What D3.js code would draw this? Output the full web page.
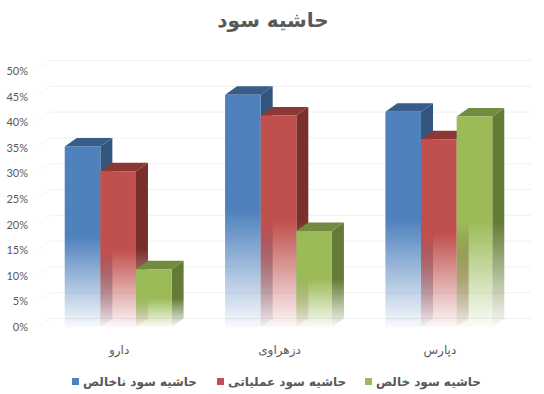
<!DOCTYPE html>
<html lang="fa">
<head>
<meta charset="utf-8">
<script src="https://cdn.jsdelivr.net/npm/d3@7"></script>
<style>
  html, body { margin: 0; padding: 0; background: #fff; }
  svg { display: block; }
</style>
</head>
<body>
<div id="chart"></div>
<script>
// values
const categories = ["دارو", "دزهراوی", "دپارس"];
const seriesNames = ["حاشیه سود ناخالص", "حاشیه سود عملیاتی", "حاشیه سود خالص"];
const grossMargin = [35, 45, 41.7];
const operatingMargin = [30.2, 41, 36.4];
const netMargin = [11.2, 18.6, 40.8];
const tickValues = [0, 5, 10, 15, 20, 25, 30, 35, 40, 45, 50];
const frontColors = ["#4f81bd", "#c0504d", "#9bbb59"];
const topColors = ["#385d8a", "#8c3836", "#718c40"];
const sideColors = ["#33567f", "#7b2f2d", "#637b35"];

const width = 544;
const height = 394;
const depthX = 12;   // 3d offset of the back wall
const depthY = 8.5;

const svg = d3.select("#chart")
  .append("svg")
  .attr("width", width)
  .attr("height", height);

const defs = svg.append("defs");

const x0 = d3.scaleBand()
  .domain(categories)
  .range([38, 519]);

const x1 = d3.scaleBand()
  .domain(seriesNames)
  .range([0, x0.bandwidth()])
  .paddingOuter(0.75)
  .paddingInner(0);

const y = d3.scaleLinear()
  .domain([0, 50])
  .range([327, 69]);

// tick labels sit a little tighter than the bars' scale
const yLabels = d3.scaleLinear()
  .domain([0, 50])
  .range([327, 71]);

// gridlines on the back wall, faint stub on the side wall
const grid = svg.append("g");
tickValues.forEach(t => {
  grid.append("line")
    .attr("x1", 38 + depthX).attr("x2", 519 + depthX)
    .attr("y1", y(t) - depthY).attr("y2", y(t) - depthY)
    .attr("stroke", "#f0f0f0");
  grid.append("line")
    .attr("x1", 38).attr("x2", 38 + depthX)
    .attr("y1", y(t)).attr("y2", y(t) - depthY)
    .attr("stroke", "#f5f5f5");
});

// axes
const yAxis = svg.append("g")
  .attr("transform", "translate(33,0)")
  .call(d3.axisLeft(yLabels).tickValues(tickValues).tickSize(0).tickPadding(5).tickFormat(d => d + "%"));
yAxis.select(".domain").remove();
yAxis.selectAll("text")
  .attr("fill", "#595959")
  .style("font-family", "Lato, sans-serif")
  .style("font-size", "11px");

const xAxis = svg.append("g")
  .attr("transform", "translate(1,345)")
  .call(d3.axisBottom(x0).tickSize(0).tickPadding(0));
xAxis.select(".domain").remove();
xAxis.selectAll("text")
  .attr("fill", "#595959")
  .attr("direction", "rtl")
  .style("font-family", "'DejaVu Sans', sans-serif")
  .style("font-size", "12px");

const rows = [grossMargin, operatingMargin, netMargin];

function fade(id, color, top) {
  const g = defs.append("linearGradient")
    .attr("id", id)
    .attr("gradientUnits", "userSpaceOnUse")
    .attr("x1", 0).attr("x2", 0)
    .attr("y1", top).attr("y2", y(0));
  g.append("stop").attr("offset", 0).attr("stop-color", color).attr("stop-opacity", 1);
  g.append("stop").attr("offset", 0.5).attr("stop-color", color).attr("stop-opacity", 1);
  g.append("stop").attr("offset", 1).attr("stop-color", color).attr("stop-opacity", 0.04);
}

// bars, left to right so the see-through fronts show the side of the bar before
categories.forEach((cat, i) => {
  seriesNames.forEach((name, s) => {
    const v = rows[s][i];
    const left = x0(cat) + x1(name);
    const w = x1.bandwidth();
    const top = y(v);
    const bottom = y(0);

    fade(`front-${i}-${s}`, frontColors[s], top);
    fade(`side-${i}-${s}`, sideColors[s], top);

    svg.append("polygon")
      .attr("points", [[left + w, top], [left + w + depthX, top - depthY], [left + w + depthX, bottom - depthY], [left + w, bottom]].join(" "))
      .attr("fill", `url(#side-${i}-${s})`);
    svg.append("polygon")
      .attr("points", [[left, top], [left + depthX, top - depthY], [left + w + depthX, top - depthY], [left + w, top]].join(" "))
      .attr("fill", topColors[s]);
    svg.append("rect")
      .attr("x", left).attr("y", top)
      .attr("width", w).attr("height", bottom - top)
      .attr("fill", `url(#front-${i}-${s})`);
  });
});

// title
svg.append("text")
  .attr("x", 273)
  .attr("y", 27)
  .attr("text-anchor", "middle")
  .attr("direction", "rtl")
  .attr("fill", "#595959")
  .style("font-family", "'DejaVu Sans', sans-serif")
  .style("font-weight", "bold")
  .style("font-size", "20px")
  .text("حاشیه سود");

// legend
const legendX = d3.scaleOrdinal().domain(seriesNames).range([72, 217, 365]);
const legend = svg.append("g");
seriesNames.forEach((name, s) => {
  legend.append("rect")
    .attr("x", legendX(name)).attr("y", 378)
    .attr("width", 7).attr("height", 7)
    .attr("fill", frontColors[s]);
  legend.append("text")
    .attr("x", legendX(name) + 11)
    .attr("y", 386)
    .attr("text-anchor", "end")
    .attr("direction", "rtl")
    .attr("fill", "#595959")
    .style("font-family", "'DejaVu Sans', sans-serif")
    .style("font-weight", "bold")
    .style("font-size", "12px")
    .text(name);
});
</script>
</body>
</html>
